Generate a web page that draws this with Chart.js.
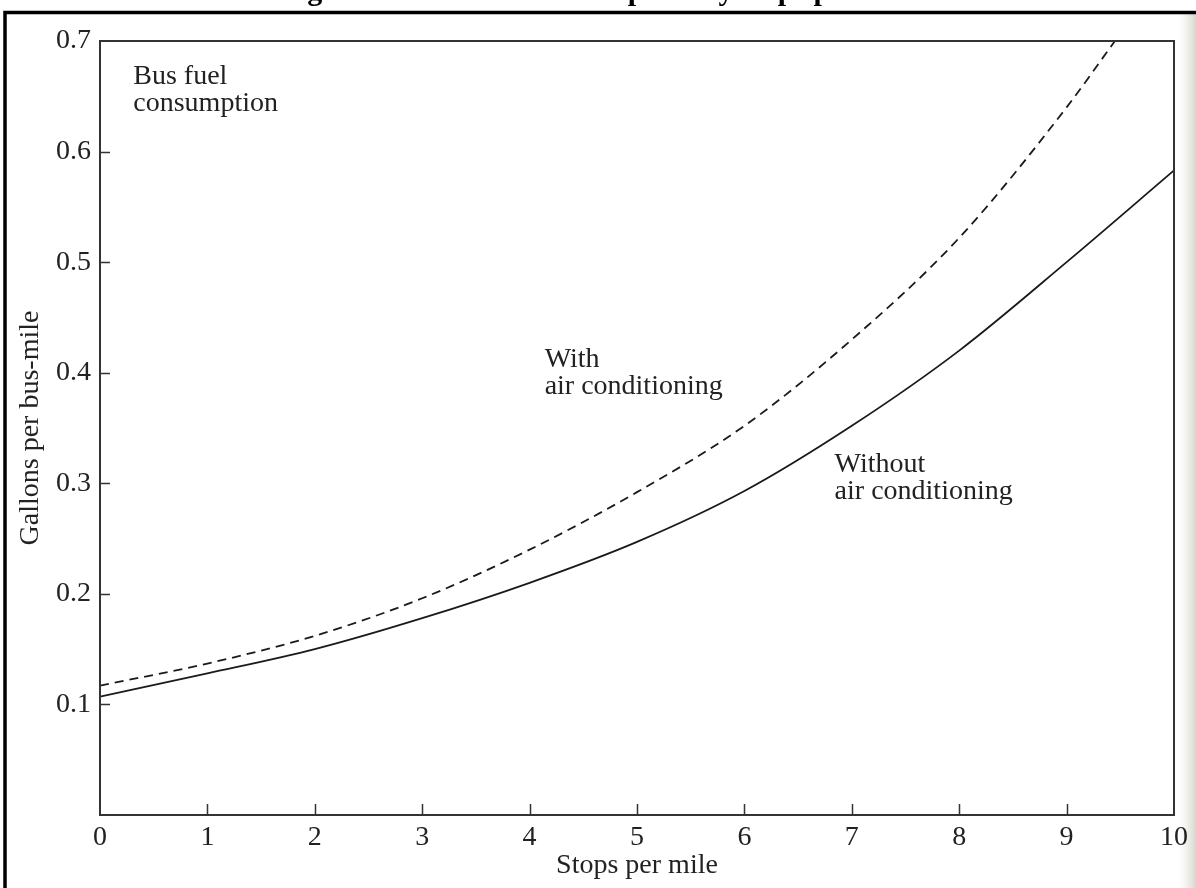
<!DOCTYPE html>
<html>
<head>
<meta charset="utf-8">
<script src="https://cdn.jsdelivr.net/npm/chart.js@4.4.1/dist/chart.umd.min.js"></script>
<style>
  html, body { margin: 0; padding: 0; background: #fff; }
  canvas { display: block; }
</style>
</head>
<body>
<canvas id="c" width="1196" height="888"></canvas>
<script>
// ---- data ----
const stops = [0, 1, 2, 3, 4, 5, 6, 7, 8, 9, 10];
const withoutAC = [0.107, 0.128, 0.150, 0.178, 0.210, 0.247, 0.293, 0.352, 0.420, 0.500, 0.583];
const withAcStops = [0, 1, 2, 3, 4, 5, 6, 7, 8, 9, 9.45];
const withAC = [0.117, 0.137, 0.162, 0.196, 0.240, 0.292, 0.352, 0.430, 0.522, 0.640, 0.700];
const yTicks = [0.1, 0.2, 0.3, 0.4, 0.5, 0.6, 0.7];
const xTicks = [0, 1, 2, 3, 4, 5, 6, 7, 8, 9, 10];
const xTitle = 'Stops per mile';
const yTitle = 'Gallons per bus-mile';
const figTitle = 'Figure 2.1 Bus fuel consumption by stops per mile';
const notes = [
  { lines: ['Bus fuel', 'consumption'], x: 0.31, y: 0.661 },
  { lines: ['With', 'air conditioning'], x: 4.14, y: 0.405 },
  { lines: ['Without', 'air conditioning'], x: 6.84, y: 0.310 }
];

const SERIF = '"Liberation Serif", "DejaVu Serif", serif';
const INK = '#222';

const toXY = (xs, ys) => xs.map((x, i) => ({ x, y: ys[i] }));

const decor = {
  id: 'decor',
  beforeDraw(chart) {
    const ctx = chart.ctx;
    ctx.save();
    ctx.fillStyle = '#fff';
    ctx.fillRect(0, 0, chart.width, chart.height);
    const g = ctx.createLinearGradient(1179, 0, 1196, 0);
    g.addColorStop(0, 'rgba(230,230,222,0)');
    g.addColorStop(1, 'rgba(215,215,205,1)');
    ctx.fillStyle = g;
    ctx.fillRect(1179, 14, 17, chart.height);
    ctx.restore();
  },
  afterDatasetsDraw(chart) {
    const ctx = chart.ctx;
    const a = chart.chartArea;
    const xs = chart.scales.x, ys = chart.scales.y;
    ctx.save();
    ctx.strokeStyle = '#333';
    ctx.lineWidth = 2;
    ctx.strokeRect(a.left, a.top, a.right - a.left, a.bottom - a.top);
    ctx.lineWidth = 1.5;
    ctx.beginPath();
    yTicks.forEach(v => {
      if (v >= ys.max) return;
      const py = Math.round(ys.getPixelForValue(v)) + 0.5;
      ctx.moveTo(a.left, py); ctx.lineTo(a.left + 10, py);
    });
    xTicks.forEach(v => {
      if (v <= xs.min || v >= xs.max) return;
      const px = Math.round(xs.getPixelForValue(v)) + 0.5;
      ctx.moveTo(px, a.bottom); ctx.lineTo(px, a.bottom - 11);
    });
    ctx.stroke();
    ctx.restore();
  },
  afterDraw(chart) {
    const ctx = chart.ctx;
    const xs = chart.scales.x, ys = chart.scales.y;
    ctx.save();
    // outer frame
    ctx.strokeStyle = '#000';
    ctx.lineWidth = 3.5;
    ctx.strokeRect(5, 12.5, 1300, 1000);
    // clipped figure title (only descenders visible)
    ctx.fillStyle = '#000';
    ctx.font = 'bold 30px ' + SERIF;
    ctx.textAlign = 'center';
    ctx.textBaseline = 'alphabetic';
    ctx.fillText(figTitle, 600, 0);
    // annotations
    ctx.fillStyle = INK;
    ctx.font = '28px ' + SERIF;
    ctx.textAlign = 'left';
    notes.forEach(n => {
      const px = xs.getPixelForValue(n.x);
      const py = ys.getPixelForValue(n.y);
      n.lines.forEach((t, i) => ctx.fillText(t, px, py + i * 27));
    });
    ctx.restore();
  }
};

new Chart(document.getElementById('c'), {
  type: 'line',
  data: {
    datasets: [
      {
        label: 'Without air conditioning',
        data: toXY(stops, withoutAC),
        borderColor: '#1a1a1a',
        borderWidth: 1.8,
        pointRadius: 0,
        cubicInterpolationMode: 'monotone',
        fill: false
      },
      {
        label: 'With air conditioning',
        data: toXY(withAcStops, withAC),
        borderColor: '#1a1a1a',
        borderWidth: 1.8,
        borderDash: [9, 6],
        pointRadius: 0,
        cubicInterpolationMode: 'monotone',
        fill: false
      }
    ]
  },
  options: {
    responsive: false,
    animation: false,
    devicePixelRatio: 1,
    layout: { padding: { left: 0, right: 22, top: 41, bottom: 0 } },
    plugins: { legend: { display: false }, tooltip: { enabled: false }, title: { display: false } },
    scales: {
      x: {
        type: 'linear',
        min: 0, max: 10,
        afterFit(s) { s.height = 73; },
        afterBuildTicks(s) { s.ticks = xTicks.map(v => ({ value: v })); },
        grid: { display: false, drawTicks: false },
        border: { display: false },
        ticks: {
          color: INK, padding: 6,
          font: { family: SERIF, size: 28 },
          callback: v => String(v)
        },
        title: {
          display: true, text: xTitle, color: INK,
          font: { family: SERIF, size: 28 },
          padding: { top: 0, bottom: 6 }
        }
      },
      y: {
        type: 'linear',
        min: 0, max: 0.7,
        afterFit(s) { s.width = 100; },
        afterBuildTicks(s) { s.ticks = yTicks.map(v => ({ value: v })); },
        grid: { display: false, drawTicks: false },
        border: { display: false },
        ticks: {
          color: INK, padding: 9,
          font: { family: SERIF, size: 28 },
          callback: v => v.toFixed(1)
        },
        title: {
          display: true, text: yTitle, color: INK,
          font: { family: SERIF, size: 28 },
          padding: { top: 14, bottom: 0 }
        }
      }
    }
  },
  plugins: [decor]
});
</script>
</body>
</html>
